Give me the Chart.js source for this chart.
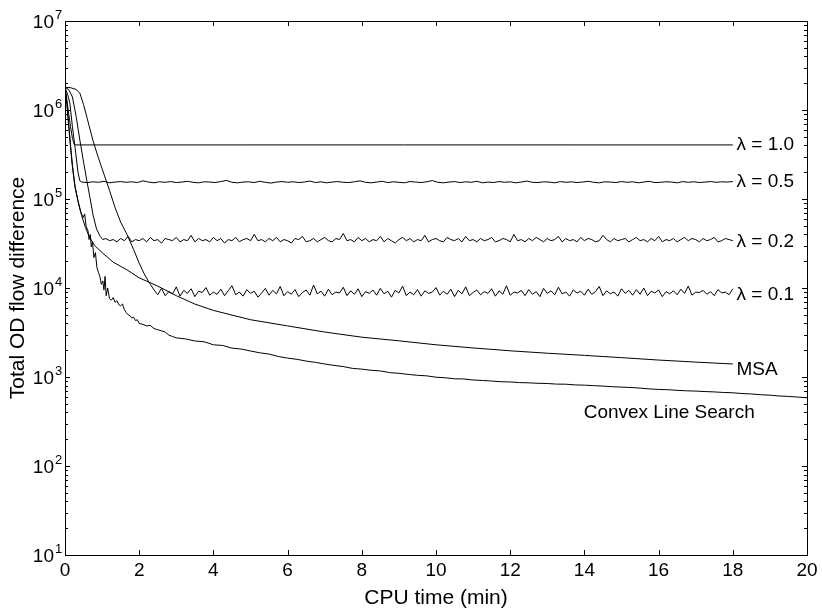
<!DOCTYPE html>
<html>
<head>
<meta charset="utf-8">
<script src="https://cdn.jsdelivr.net/npm/chart.js@4"></script>
<style>
  body { margin: 0; background: #fff; }
  #wrap { width: 822px; height: 611px; }
</style>
</head>
<body>
<div id="wrap"><canvas id="myChart" width="822" height="611"></canvas></div>
<script>
// x ticks and y decades
const xTicks = [0, 2, 4, 6, 8, 10, 12, 14, 16, 18, 20];
const yExponents = [1, 2, 3, 4, 5, 6, 7];

// lambda = 1.0 (smooth)
const lam10Time = [0, 0.05, 0.1, 0.15, 0.2, 0.25, 0.3, 18];
const lam10Vals = [1.8e6, 1.3e6, 9e5, 6.5e5, 4.8e5, 4.1e5, 4.05e5, 4.05e5];

// lambda = 0.5: start, then noisy tail (thousands) from 0.45 every 0.15
const lam05Time = [0, 0.07, 0.13, 0.2, 0.27, 0.35, 0.4];
const lam05Vals = [1.8e6, 1.5e6, 1.2e6, 6.5e5, 3.8e5, 2e5, 1.6e5];
const lam05TailStart = 0.45, lam05TailStep = 0.15;
const lam05TailK = [
  155,153,156,154,158,152,155,157,154,156,153,160,155,152,156,154,157,153,155,158,
  154,152,156,155,153,157,162,154,152,155,156,153,158,154,151,155,157,154,156,153,
  155,159,153,156,152,155,157,154,153,156,160,154,152,155,158,153,156,154,152,157,
  155,153,156,161,154,152,155,157,153,156,154,158,152,155,153,157,154,156,152,155,
  159,154,153,156,155,152,157,154,156,153,155,158,154,152,156,155,153,157,154,156,
  152,155,158,153,154,156,155,152,157,154,156,153,155,157,154,156,155,157
];

// lambda = 0.2: start, then noisy tail (thousands) from 1.1 every 0.1
const lam02Time = [0, 0.1, 0.2, 0.3, 0.4, 0.5, 0.59, 0.67, 0.76, 0.85, 0.95, 1.02];
const lam02Vals = [1.8e6, 1.7e6, 1.4e6, 8.5e5, 4.6e5, 2.6e5, 1.6e5, 1.05e5, 6.5e4, 4.6e4, 3.8e4, 3.5e4];
const lam02TailStart = 1.1, lam02TailStep = 0.1;
const lam02TailK = [
  36,34,35,33,36,34,38,33,35,34,36,33,37,34,35,32,36,35,34,37,
  33,35,34,39,33,36,34,35,33,37,34,36,32,35,34,37,33,35,36,34,
  40,34,35,33,36,34,37,33,35,34,32,36,35,38,33,34,36,33,35,37,
  34,33,36,35,41,34,35,33,37,34,36,33,35,34,38,33,36,34,32,35,
  37,34,36,33,35,34,39,33,35,36,34,33,37,35,34,36,33,38,34,35,
  33,36,34,35,37,33,34,36,35,33,40,34,35,33,36,34,37,35,33,36,
  34,35,38,33,36,34,35,33,37,34,36,35,33,34,39,35,33,36,34,35,
  36,33,35,37,34,35,33,36,34,38,33,35,34,36,33,35,37,34,36,35,
  33,36,34,35,37,33,34,36,35,34
];

// lambda = 0.1: slow start, then noisy tail (thousands) from 2.4 every 0.1
const lam01Time = [0, 0.15, 0.3, 0.4, 0.5, 0.6, 0.75, 0.9, 1.05, 1.2, 1.35, 1.5, 1.67, 1.85, 2.0, 2.15, 2.3];
const lam01Vals = [1.8e6, 1.78e6, 1.7e6, 1.55e6, 1.15e6, 8e5, 4.6e5, 2.9e5, 1.9e5, 1.25e5, 8e4, 5.5e4, 4e4, 2.7e4, 1.9e4, 1.4e4, 1.1e4];
const lam01TailStart = 2.4, lam01TailStep = 0.1;
const lam01TailK = [
  9.5,8.4,9.9,8.2,9.1,8.6,10.3,8.1,9.4,8.7,9.8,8.0,9.2,8.9,10.1,8.3,9.0,8.5,9.7,8.2,
  9.3,10.6,8.4,9.0,8.1,9.6,8.7,9.2,7.9,8.8,9.9,8.3,9.4,8.6,10.4,8.2,9.1,8.5,9.6,8.0,
  8.9,9.5,8.3,10.8,8.6,9.2,8.1,9.7,8.4,9.0,8.8,10.2,8.2,9.3,8.5,9.8,8.0,9.1,8.7,9.5,
  8.3,9.9,8.6,9.2,7.9,9.4,8.8,10.5,8.2,9.0,8.4,9.6,8.1,9.3,8.7,9.0,10.1,8.3,9.2,8.5,
  9.7,8.0,9.4,8.6,10.3,8.2,8.9,9.5,8.4,9.1,8.7,9.8,8.1,9.3,8.5,10.6,8.3,9.0,8.8,9.4,
  8.2,9.6,8.5,9.1,8.0,9.9,8.7,9.3,8.4,10.2,8.6,9.0,8.1,9.5,8.8,9.2,8.3,9.7,8.5,9.1,
  10.4,8.2,9.3,8.6,9.0,8.1,9.8,8.7,9.4,8.3,9.6,8.5,10.0,8.2,9.2,8.8,9.5,8.0,9.1,8.6,
  9.3,8.4,9.7,8.7,10.5,8.3,9.0,8.9,9.4,8.5,9.1,8.2,9.6,8.8,9.0,8.4,9.8
];

// MSA (smooth)
const msaTime = [0, 0.05, 0.1, 0.15, 0.2, 0.27, 0.35, 0.45, 0.55, 0.65, 0.8, 1.0, 1.3, 1.67, 2.0, 2.5, 3.0, 3.5, 4, 5, 6, 7, 8, 9, 10, 11, 12, 13, 14, 15, 16, 17, 18];
const msaVals = [1.8e6, 1.2e6, 7e5, 4e5, 2.4e5, 1.4e5, 9.5e4, 6.5e4, 4.8e4, 3.8e4, 3.0e4, 2.5e4, 1.95e4, 1.6e4, 1.3e4, 1.05e4, 8.2e3, 6.6e3, 5.6e3, 4.4e3, 3.75e3, 3.2e3, 2.8e3, 2.55e3, 2.3e3, 2.12e3, 1.97e3, 1.85e3, 1.75e3, 1.65e3, 1.55e3, 1.47e3, 1.4e3];

// Convex line search
const convexTime = [
  0, 0.05, 0.1, 0.15, 0.2, 0.27, 0.35, 0.42, 0.49, 0.53, 0.57, 0.62, 0.65, 0.68, 0.71, 0.74, 0.78, 0.82, 0.86, 0.9,
  0.94, 0.98, 1.02, 1.05, 1.08, 1.11, 1.15, 1.2, 1.25, 1.3, 1.35, 1.4, 1.45, 1.5, 1.55, 1.6, 1.65, 1.7, 1.75, 1.8,
  1.85, 1.9, 1.95, 2.0, 2.1, 2.2, 2.3, 2.4, 2.5, 2.6, 2.7, 2.8, 2.9,
  3.0, 3.25, 3.5, 3.75, 4.0, 4.25, 4.5, 4.75, 5.0, 5.25, 5.5, 5.75, 6.0, 6.25, 6.5, 6.75, 7.0, 7.25, 7.5, 7.75,
  8.0, 8.25, 8.5, 8.75, 9.0, 9.25, 9.5, 9.75, 10.0, 10.25, 10.5, 10.75, 11.0, 11.25, 11.5, 11.75, 12.0, 12.25, 12.5, 12.75,
  13.0, 13.25, 13.5, 13.75, 14.0, 14.25, 14.5, 14.75, 15.0, 15.25, 15.5, 15.75, 16.0, 16.25, 16.5, 16.75, 17.0, 17.25, 17.5, 17.75,
  18.0, 18.25, 18.5, 18.75, 19.0, 19.25, 19.5, 19.75, 20.0
];
const convexVals = [
  1.8e6, 1.2e6, 6.5e5, 3.8e5, 2.3e5, 1.35e5, 9.5e4, 7.2e4, 6.2e4, 6.8e4, 4.9e4, 4.4e4, 3.5e4, 4.0e4, 2.9e4, 3.3e4, 2.2e4, 2.5e4, 1.7e4, 1.5e4,
  1.35e4, 1.1e4, 1.2e4, 9.5e3, 1.35e4, 8.2e3, 1.0e4, 7.6e3, 7.3e3, 7.8e3, 6.9e3, 7.2e3, 6.5e3, 6.3e3, 6.6e3, 5.7e3, 5.3e3, 5.0e3, 4.9e3, 4.6e3,
  4.7e3, 4.3e3, 4.4e3, 4.0e3, 3.9e3, 3.75e3, 3.8e3, 3.5e3, 3.4e3, 3.3e3, 3.2e3, 2.95e3, 2.85e3,
  2750, 2680, 2540, 2490, 2300, 2260, 2110, 2060, 1960, 1870, 1810, 1700, 1630, 1580, 1510, 1460, 1400, 1350, 1310, 1250,
  1225, 1190, 1170, 1120, 1100, 1070, 1045, 1030, 995, 980, 955, 950, 925, 915, 900, 885, 880, 865, 860, 850,
  845, 832, 830, 815, 810, 800, 790, 778, 770, 762, 750, 735, 725, 720, 708, 700, 695, 686, 680, 670,
  665, 652, 645, 632, 625, 612, 605, 595, 585
];

// curve labels and where they sit (data coordinates)
const curveLabels = ['λ = 1.0', 'λ = 0.5', 'λ = 0.2', 'λ = 0.1', 'MSA', 'Convex Line Search'];
const labelTime = [18.1, 18.1, 18.1, 18.1, 18.1, 13.98];
const labelLevel = [4.05e5, 1.55e5, 3.3e4, 8.3e3, 1.2e3, 394];

function pairs(times, vals) {
  return times.map((t, i) => ({ x: t, y: vals[i] }));
}
function withTail(times, vals, start, step, tailK) {
  const pts = pairs(times, vals);
  tailK.forEach((v, i) => pts.push({ x: +(start + i * step).toFixed(3), y: v * 1000 }));
  return pts;
}

const seriesData = [
  pairs(lam10Time, lam10Vals),
  withTail(lam05Time, lam05Vals, lam05TailStart, lam05TailStep, lam05TailK),
  withTail(lam02Time, lam02Vals, lam02TailStart, lam02TailStep, lam02TailK),
  withTail(lam01Time, lam01Vals, lam01TailStart, lam01TailStep, lam01TailK),
  pairs(msaTime, msaVals),
  pairs(convexTime, convexVals)
];

const FONT = '"Liberation Sans", Arial, sans-serif';

// draws the box, inward ticks, tick labels, titles and curve labels
const frame = {
  id: 'frame',
  afterDraw(chart) {
    const ctx = chart.ctx;
    const a = chart.chartArea;
    const xs = chart.scales.x, ys = chart.scales.y;
    ctx.save();
    ctx.strokeStyle = '#000';
    ctx.fillStyle = '#000';
    ctx.lineWidth = 1;
    ctx.strokeRect(Math.round(a.left) + 0.5, Math.round(a.top) + 0.5, Math.round(a.right - a.left), Math.round(a.bottom - a.top));

    ctx.beginPath();
    xTicks.forEach(t => {
      const px = Math.round(xs.getPixelForValue(t)) + 0.5;
      ctx.moveTo(px, a.bottom); ctx.lineTo(px, a.bottom - 5);
      ctx.moveTo(px, a.top); ctx.lineTo(px, a.top + 5);
    });
    yExponents.forEach((e, i) => {
      for (let m = 1; m <= 9; m++) {
        if (m > 1 && i === yExponents.length - 1) break;
        const py = Math.round(ys.getPixelForValue(m * Math.pow(10, e))) + 0.5;
        const len = m === 1 ? 5 : 3;
        ctx.moveTo(a.left, py); ctx.lineTo(a.left + len, py);
        ctx.moveTo(a.right, py); ctx.lineTo(a.right - len, py);
      }
    });
    ctx.stroke();

    ctx.font = '19px ' + FONT;
    ctx.textAlign = 'center';
    ctx.textBaseline = 'middle';
    xTicks.forEach(t => ctx.fillText(String(t), xs.getPixelForValue(t), a.bottom + 16));
    ctx.font = '21px ' + FONT;
    ctx.fillText('CPU time (min)', (a.left + a.right) / 2, a.bottom + 43);

    yExponents.forEach(e => {
      const py = ys.getPixelForValue(Math.pow(10, e));
      ctx.font = '19px ' + FONT;
      ctx.textAlign = 'right';
      ctx.fillText('10', a.left - 11, py + 2);
      ctx.font = '13px ' + FONT;
      ctx.textAlign = 'left';
      ctx.fillText(String(e), a.left - 10, py - 6);
    });

    ctx.save();
    ctx.translate(18, (a.top + a.bottom) / 2);
    ctx.rotate(-Math.PI / 2);
    ctx.font = '21px ' + FONT;
    ctx.textAlign = 'center';
    ctx.fillText('Total OD flow difference', 0, 0);
    ctx.restore();

    ctx.font = '19px ' + FONT;
    ctx.textAlign = 'left';
    curveLabels.forEach((txt, i) => {
      ctx.fillText(txt, xs.getPixelForValue(labelTime[i]), ys.getPixelForValue(labelLevel[i]));
    });
    ctx.restore();
  }
};

const config = {
  type: 'line',
  data: {
    datasets: seriesData.map(d => ({
      data: d,
      borderColor: '#000',
      borderWidth: 1,
      pointRadius: 0,
      tension: 0,
      fill: false
    }))
  },
  options: {
    responsive: false,
    animation: false,
    layout: { padding: { left: 65, top: 21, right: 15, bottom: 56 } },
    plugins: { legend: { display: false }, tooltip: { enabled: false } },
    scales: {
      x: { type: 'linear', min: 0, max: 20, display: false },
      y: { type: 'logarithmic', min: 10, max: 1e7, display: false }
    }
  },
  plugins: [frame]
};

new Chart(document.getElementById('myChart'), config);
</script>
</body>
</html>
